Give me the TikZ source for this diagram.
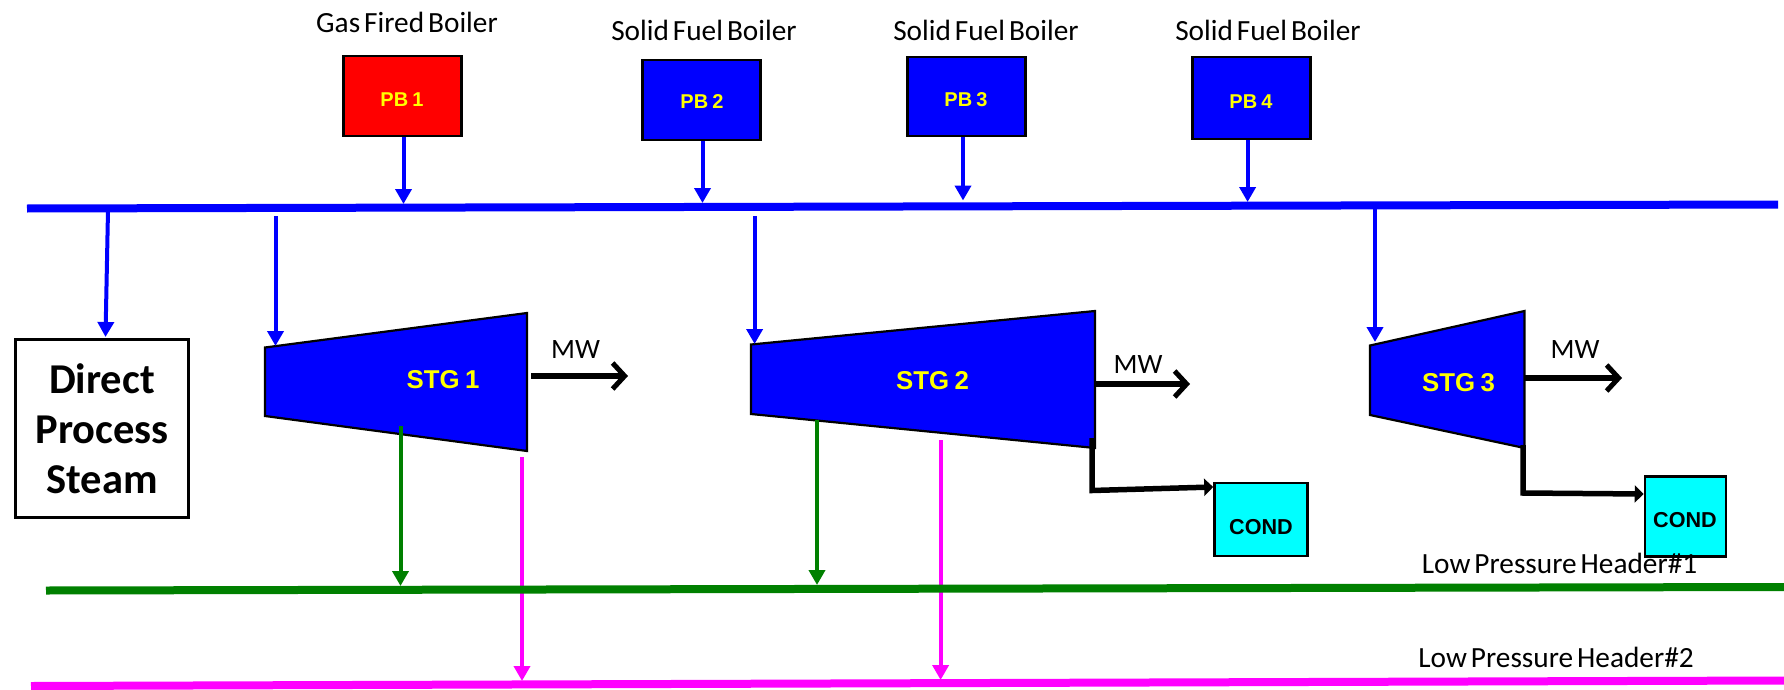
\documentclass[tikz,border=0pt]{standalone}
\usepackage{fontspec}
\setmainfont{Carlito}
\newfontfamily\lblf[WordSpace=0.6]{Carlito}
\newfontfamily\arialb[WordSpace=0.75]{Liberation Sans}
\usetikzlibrary{arrows.meta}
\definecolor{hgreen}{RGB}{0,128,0}
\definecolor{hblue}{RGB}{0,0,255}
\definecolor{hred}{RGB}{255,0,0}
\definecolor{hmag}{RGB}{255,0,255}
\definecolor{hcyan}{RGB}{0,255,255}
\definecolor{hyel}{RGB}{255,255,0}
\tikzset{
  lbl/.style={inner sep=0pt,font=\lblf\fontsize{29.3}{32}\selectfont},
  mwlbl/.style={inner sep=0pt,font=\lblf\fontsize{28}{32}\selectfont},
  boiler/.style={draw=black,line width=2.6pt,minimum width=118pt,inner sep=0pt},
  pblbl/.style={inner sep=0pt,text=hyel,font=\arialb\bfseries\fontsize{20}{24}\selectfont},
  stglbl/.style={inner sep=0pt,text=hyel,font=\arialb\bfseries\fontsize{25.8}{28}\selectfont},
  condbox/.style={draw=black,line width=2.6pt,fill=hcyan,inner sep=0pt},
  condlbl/.style={inner sep=0pt,font=\arialb\bfseries\fontsize{21.6}{24}\selectfont},
  stg/.style={draw=black,fill=hblue,line width=2.2pt,line join=miter},
  header/.style={line width=8pt},
  feed/.style={line width=4pt,-{Triangle[length=15pt,width=16pt]}},
  power/.style={line width=5.5pt,-{Straight Barb[length=12pt,width=26pt,line width=5pt]}},
  tocond/.style={line width=5.5pt,-{Triangle[length=9pt,width=17pt]}}
}
\begin{document}
\begin{tikzpicture}[x=1pt,y=-1pt]
\useasboundingbox (0,0) rectangle (1784,690);
\fill[white] (0,0) rectangle (1784,690);

% header ends
\coordinate (bL) at (27,208.5);
\coordinate (bR) at (1778,204.5);
\coordinate (gL) at (46,590.5);
\coordinate (gR) at (1784,587);
\coordinate (mL) at (31,686);
\coordinate (mR) at (1784,680.5);

% boilers
\node[lbl] (t1) at (407,22) {Gas Fired Boiler};
\node[lbl] (t2) at (704,30) {Solid Fuel Boiler};
\node[lbl] (t3) at (986,30) {Solid Fuel Boiler};
\node[lbl] (t4) at (1268,30) {Solid Fuel Boiler};
\node[boiler,fill=hred,minimum height=80pt] (pb1) at (402.5,96) {};
\node[boiler,fill=hblue,minimum height=80pt] (pb2) at (701.5,100) {};
\node[boiler,fill=hblue,minimum height=79pt] (pb3) at (966.5,96.5) {};
\node[boiler,fill=hblue,minimum height=82pt] (pb4) at (1251.5,98) {};
\node[pblbl] (pb1t) at (402,100) {PB 1};
\node[pblbl] (pb2t) at (702,102) {PB 2};
\node[pblbl] (pb3t) at (966,100) {PB 3};
\node[pblbl] (pb4t) at (1251,102) {PB 4};

% direct process steam
\node[draw=black,line width=2.4pt,fill=white,minimum width=173pt,minimum height=178pt,inner sep=0pt,align=center,
      font=\bfseries\fontsize{42.5}{50}\selectfont] (dps) at (102,428.5) {Direct\\Process\\Steam};

% turbines
\draw[stg] (265,347.5) -- (527,313) -- (527,451) -- (265,416) -- cycle;
\draw[stg] (751,344.5) -- (1095,311) -- (1095,448) -- (751,414) -- cycle;
\draw[stg] (1370,345.5) -- (1524.5,311) -- (1524.5,448) -- (1370,415) -- cycle;
\node[stglbl] (s1t) at (443,380) {STG 1};
\node[stglbl] (s2t) at (932.5,381) {STG 2};
\node[stglbl] (s3t) at (1458.5,383) {STG 3};

% condensers
\node[condbox,minimum width=93pt,minimum height=73pt] (c1) at (1261,519.5) {};
\node[condbox,minimum width=81pt,minimum height=80pt] (c2) at (1685.5,516.5) {};
\node[condlbl] (c1t) at (1261,527) {COND};
\node[condlbl] (c2t) at (1685,520) {COND};

% magenta arrows (under the green header)
\coordinate (m1a) at (522,457);  \coordinate (m1b) at (522,681);
\coordinate (m2a) at (940.6,440);\coordinate (m2b) at (940.6,680);
\draw[feed,hmag] (m1a) -- (m1b);
\draw[feed,hmag] (m2a) -- (m2b);

% headers
\draw[header,hblue] (bL) -- (bR);
\draw[header,hgreen] (gL) -- (gR);
\draw[header,hmag] (mL) -- (mR);

% blue arrows
\coordinate (a1) at (403.5,204);
\coordinate (a2) at (702.5,203);
\coordinate (a3) at (963,200.5);
\coordinate (a4) at (1247.6,202);
\draw[feed,hblue] (pb1.south -| a1) -- (a1);
\draw[feed,hblue] (pb2.south -| a2) -- (a2);
\draw[feed,hblue] (pb3.south -| a3) -- (a3);
\draw[feed,hblue] (pb4.south -| a4) -- (a4);
\coordinate (d0) at (108,210);
\draw[feed,hblue] (d0) -- (105.5,337);
\coordinate (f1a) at (275.5,216); \coordinate (f1b) at (275.5,346);
\coordinate (f2a) at (754.6,216); \coordinate (f2b) at (754.6,344);
\coordinate (f3a) at (1375,207);  \coordinate (f3b) at (1375,342);
\draw[feed,hblue] (f1a) -- (f1b);
\draw[feed,hblue] (f2a) -- (f2b);
\draw[feed,hblue] (f3a) -- (f3b);

% green arrows
\coordinate (g1a) at (400.5,426); \coordinate (g1b) at (400.5,586);
\coordinate (g2a) at (817,420);   \coordinate (g2b) at (817,585);
\draw[feed,hgreen] (g1a) -- (g1b);
\draw[feed,hgreen] (g2a) -- (g2b);

% MW outputs
\node[mwlbl] (mw1) at (575.5,350) {MW};
\node[mwlbl] (mw2) at (1138,365) {MW};
\node[mwlbl] (mw3) at (1575,350) {MW};
\coordinate (p1a) at (531,376);  \coordinate (p1b) at (628,376);
\coordinate (p2a) at (1095,384); \coordinate (p2b) at (1190,384);
\coordinate (p3a) at (1525,378); \coordinate (p3b) at (1622,378);
\draw[power] (p1a) -- (p1b);
\draw[power] (p2a) -- (p2b);
\draw[power] (p3a) -- (p3b);

% condenser lines
\coordinate (k1a) at (1092,438); \coordinate (k1b) at (1092,490.5);
\coordinate (k2a) at (1523,445); \coordinate (k2b) at (1523,493);
\draw[tocond,line join=miter] (k1a) -- (k1b) -- (c1.west |- 0,487);
\draw[tocond,line join=miter] (k2a) -- (k2b) -- (c2.west |- 0,494);

% low pressure labels
\node[lbl] (l1) at (1559.5,563.5) {Low Pressure Header\#1};
\node[lbl] (l2) at (1556,657) {Low Pressure Header\#2};
\end{tikzpicture}
\end{document}
